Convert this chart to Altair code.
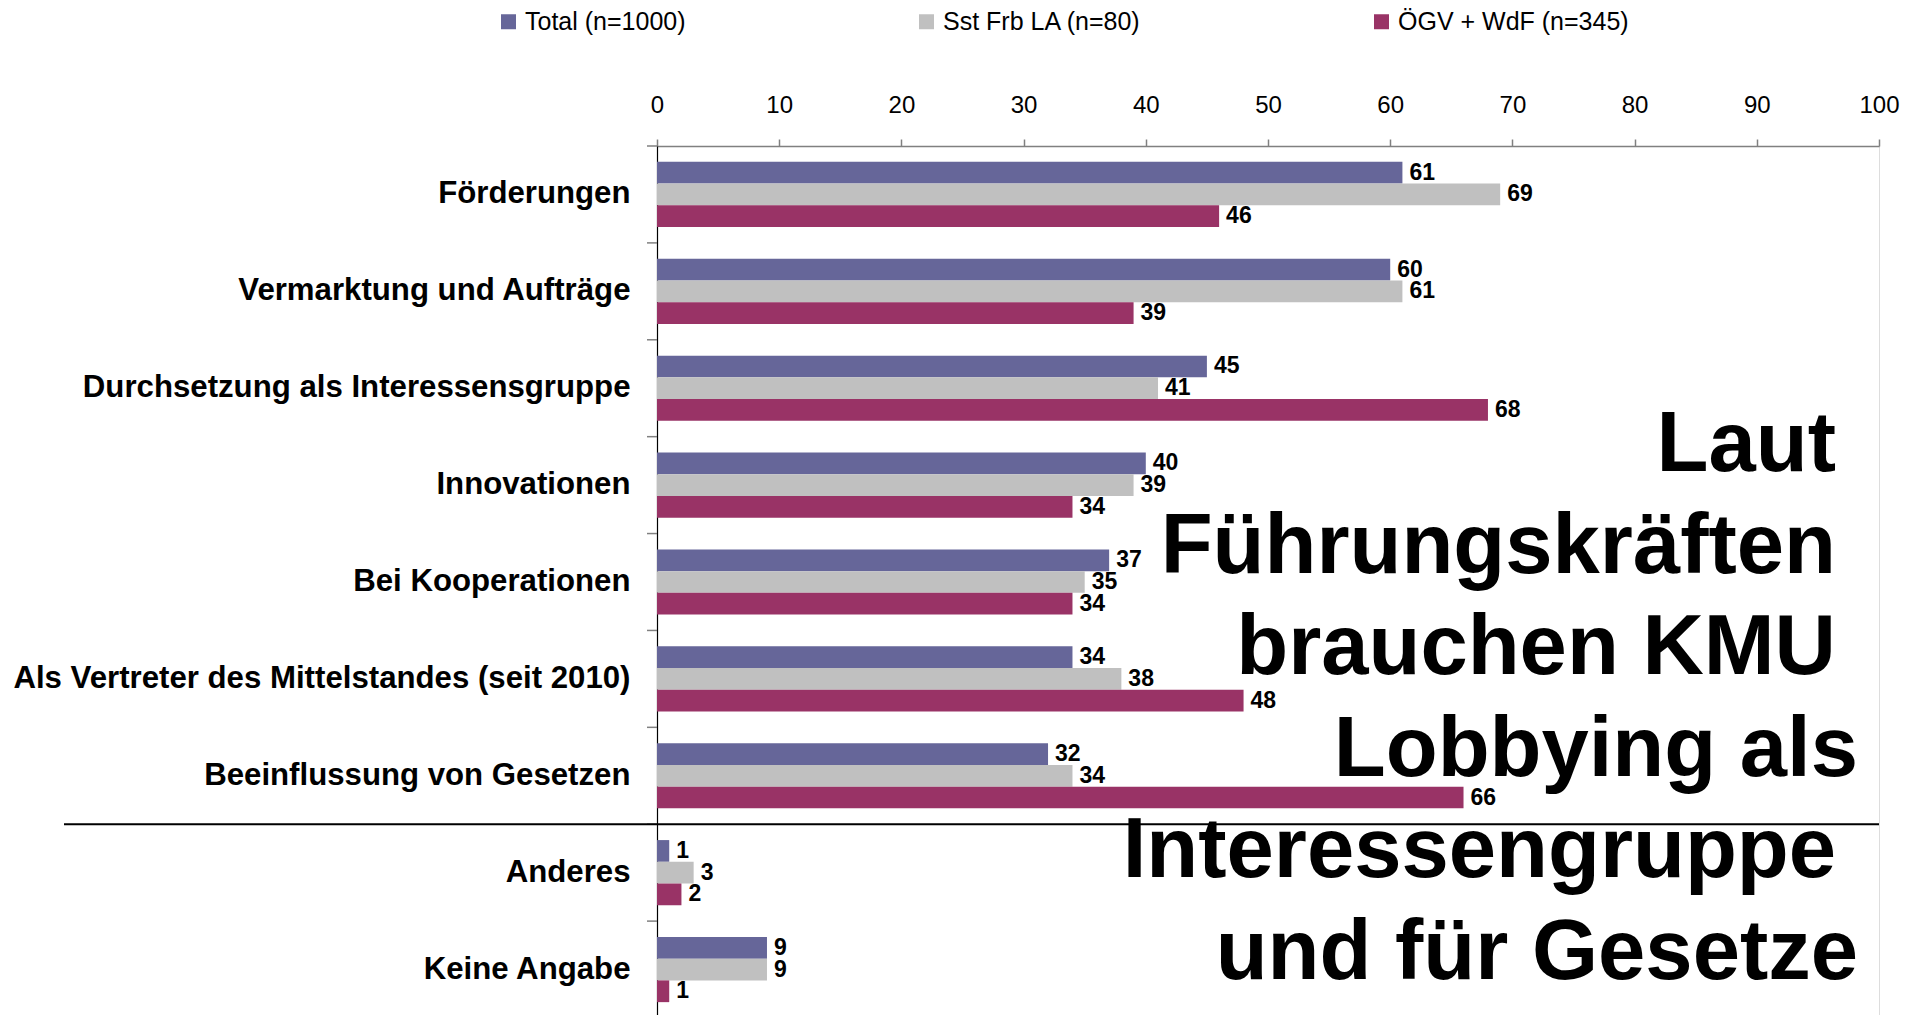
import altair as alt
import pandas as pd

categories = [
    "Förderungen",
    "Vermarktung und Aufträge",
    "Durchsetzung als Interessensgruppe",
    "Innovationen",
    "Bei Kooperationen",
    "Als Vertreter des Mittelstandes (seit 2010)",
    "Beeinflussung von Gesetzen",
    "Anderes",
    "Keine Angabe",
]
series = ["Total (n=1000)", "Sst Frb LA (n=80)", "ÖGV + WdF (n=345)"]
colors = ["#666699", "#C0C0C0", "#993366"]
total = [61, 60, 45, 40, 37, 34, 32, 1, 9]
sst = [69, 61, 41, 39, 35, 38, 34, 3, 9]
oegv = [46, 39, 68, 34, 34, 48, 66, 2, 1]
x_ticks = [0, 10, 20, 30, 40, 50, 60, 70, 80, 90, 100]
headline = ["Laut", "Führungskräften", "brauchen KMU",
            "Lobbying als", "Interessengruppe", "und für Gesetze"]
headline_trailing_space = [True, True, True, False, True, False]

rows = []
for s, vals in zip(series, [total, sst, oegv]):
    for c, v in zip(categories, vals):
        rows.append({"Kategorie": c, "Gruppe": s, "Wert": v})
df = pd.DataFrame(rows)
cat_df = pd.DataFrame({"Kategorie": categories})

FONT = "Liberation Sans"
W, H = 1222, 872

y_enc = alt.Y("Kategorie:N", sort=categories,
              scale=alt.Scale(domain=categories, paddingInner=0, paddingOuter=0),
              axis=alt.Axis(title=None, ticks=False, labelFontSize=31.2, labelFont=FONT,
                            labelFontWeight="bold", labelColor="#000000", labelPadding=27,
                            labelLimit=700, domainColor="#000000", domainWidth=1.2))
yoff_enc = alt.YOffset("Gruppe:N", sort=series,
                       scale=alt.Scale(domain=series, paddingInner=0, paddingOuter=0.73))
x_enc = alt.X("Wert:Q", scale=alt.Scale(domain=[0, 100], nice=False),
              axis=alt.Axis(orient="top", title=None, values=x_ticks, grid=False,
                            labelFontSize=24, labelFont=FONT, labelColor="#000000",
                            labelFlush=False, labelOverlap=False, labelBound=False,
                            labelPadding=22, tickSize=7, tickColor="#808080",
                            domainColor="#808080", domainWidth=1.5, tickWidth=1.5))

bars = alt.Chart(df).mark_bar().encode(
    x=x_enc,
    y=y_enc,
    yOffset=yoff_enc,
    color=alt.Color("Gruppe:N", sort=series,
                    scale=alt.Scale(domain=series, range=colors),
                    legend=alt.Legend(title=None, orient="none", legendX=-161, legendY=-137,
                                      direction="horizontal", columns=3, gridAlign="each",
                                      columnPadding=228, symbolType="square", symbolSize=225,
                                      symbolStrokeWidth=0, labelFontSize=25, labelFont=FONT,
                                      labelColor="#000000", labelOffset=4, labelLimit=400)),
)

labels = alt.Chart(df).mark_text(align="left", baseline="middle", dx=7, fontSize=23,
                                 fontWeight="bold", font=FONT, color="#000000").encode(
    x="Wert:Q",
    y=alt.Y("Kategorie:N", sort=categories),
    yOffset=alt.YOffset("Gruppe:N", sort=series),
    text="Wert:Q",
)

ticks = alt.Chart(cat_df).mark_rule(color="#808080", strokeWidth=1.5).encode(
    y=alt.Y("Kategorie:N", sort=categories, bandPosition=0),
    x=alt.value(-10),
    x2=alt.value(0),
)

separator = alt.Chart(cat_df).transform_filter(
    alt.datum.Kategorie == "Anderes"
).mark_rule(color="#000000", strokeWidth=2).encode(
    y=alt.Y("Kategorie:N", sort=categories, bandPosition=0),
    x=alt.value(-593),
    x2=alt.value(W),
)

head_layers = []
for i, (line, trail) in enumerate(zip(headline, headline_trailing_space)):
    head_layers.append(
        alt.Chart(cat_df.head(1)).mark_text(
            text=line, align="right", baseline="alphabetic", fontSize=85,
            fontWeight="bold", font=FONT, color="#000000",
        ).encode(x=alt.value(1179 if trail else 1201), y=alt.value(325 + i * 101.6))
    )

chart = alt.layer(bars, labels, ticks, separator, *head_layers).properties(
    width=W, height=H,
    autosize=alt.AutoSizeParams(type="none"),
    padding={"left": 649, "top": 138, "right": 30, "bottom": 0},
).configure_view(stroke=None).configure(font=FONT)

chart.save("out.html", embed_options={"renderer": "svg", "actions": False})
